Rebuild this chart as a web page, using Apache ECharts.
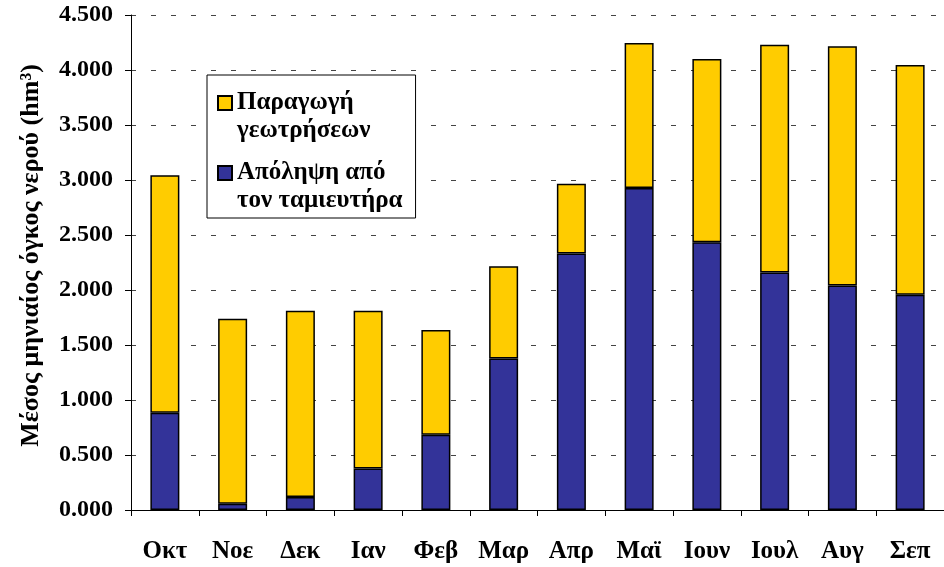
<!DOCTYPE html>
<html>
<head>
<meta charset="utf-8">
<script src="https://cdn.jsdelivr.net/npm/echarts@6/dist/echarts.min.js"></script>
<style>
  html, body { margin: 0; padding: 0; background: #fff; }
  #chart { width: 944px; height: 567px; }
</style>
</head>
<body>
<div id="chart"></div>
<script>
// μήνες υδρολογικού έτους
const months = ['Οκτ', 'Νοε', 'Δεκ', 'Ιαν', 'Φεβ', 'Μαρ', 'Απρ', 'Μαϊ', 'Ιουν', 'Ιουλ', 'Αυγ', 'Σεπ']

// απόληψη από τον ταμιευτήρα (κάτω τμήμα)
const reservoir = [0.884, 0.057, 0.118, 0.377, 0.685, 1.377, 2.331, 2.928, 2.433, 2.159, 2.040, 1.956]
// παραγωγή γεωτρήσεων (πάνω τμήμα)
const boreholes = [2.159, 1.682, 1.694, 1.435, 0.951, 0.839, 0.636, 1.317, 1.667, 2.071, 2.177, 2.089]

const yTicks = { min: 0, max: 4.5, interval: 0.5 }

const font = '"Liberation Serif", "Times New Roman", serif'

const chart = echarts.init(document.getElementById('chart'), null, { renderer: 'canvas' })

const barStyle = color => ({
  color: color,
  borderColor: '#000',
  borderWidth: 1.5
})

// τετράγωνο στο πάνω μέρος, ώστε να ευθυγραμμίζεται με την πρώτη γραμμή
const legendIcon = 'path://M0,0h14v14h-14zM0,42'

chart.setOption({
  animation: false,
  textStyle: { fontFamily: font },
  grid: {
    left: 131,
    right: 0,
    top: 15,
    bottom: 57
  },
  legend: {
    data: ['Παραγωγή γεωτρήσεων', 'Απόληψη από τον ταμιευτήρα'],
    orient: 'vertical',
    left: 207,
    top: 75,
    padding: [14, 13, 3, 10],
    itemGap: 14,
    itemWidth: 14,
    itemHeight: 42,
    borderColor: '#000',
    borderWidth: 1,
    backgroundColor: '#fff',
    icon: legendIcon,
    formatter: name => name === 'Παραγωγή γεωτρήσεων'
      ? 'Παραγωγή\nγεωτρήσεων'
      : 'Απόληψη από\nτον ταμιευτήρα',
    textStyle: {
      fontFamily: font,
      fontWeight: 'bold',
      fontSize: 25,
      lineHeight: 28,
      color: '#000'
    }
  },
  xAxis: {
    type: 'category',
    data: months,
    axisLine: { lineStyle: { color: '#000', width: 1 } },
    axisTick: { show: true, length: 6, lineStyle: { color: '#000' } },
    axisLabel: {
      margin: 29,
      color: '#000',
      fontFamily: font,
      fontWeight: 'bold',
      fontSize: 25
    }
  },
  yAxis: {
    type: 'value',
    min: yTicks.min,
    max: yTicks.max,
    interval: yTicks.interval,
    name: 'Μέσος μηνιαίος όγκος νερού (hm³)',
    nameLocation: 'middle',
    nameRotate: 90,
    nameGap: 87,
    nameTextStyle: {
      fontFamily: font,
      fontWeight: 'bold',
      fontSize: 26,
      color: '#000',
      padding: [0, 0, 0, 14]
    },
    axisLine: { show: true, lineStyle: { color: '#000', width: 1 } },
    axisTick: { show: true, length: 6, lineStyle: { color: '#000' } },
    axisLabel: {
      margin: 18,
      color: '#000',
      fontFamily: font,
      fontWeight: 'bold',
      fontSize: 24,
      formatter: v => v.toFixed(3)
    },
    splitLine: {
      lineStyle: { type: [5, 15], color: '#444', width: 1 }
    }
  },
  series: [
    {
      name: 'Απόληψη από τον ταμιευτήρα',
      type: 'bar',
      stack: 'total',
      barWidth: 29,
      data: reservoir,
      itemStyle: barStyle('#333399')
    },
    {
      name: 'Παραγωγή γεωτρήσεων',
      type: 'bar',
      stack: 'total',
      barWidth: 29,
      data: boreholes,
      itemStyle: barStyle('#FFCC00')
    }
  ]
})
</script>
</body>
</html>
